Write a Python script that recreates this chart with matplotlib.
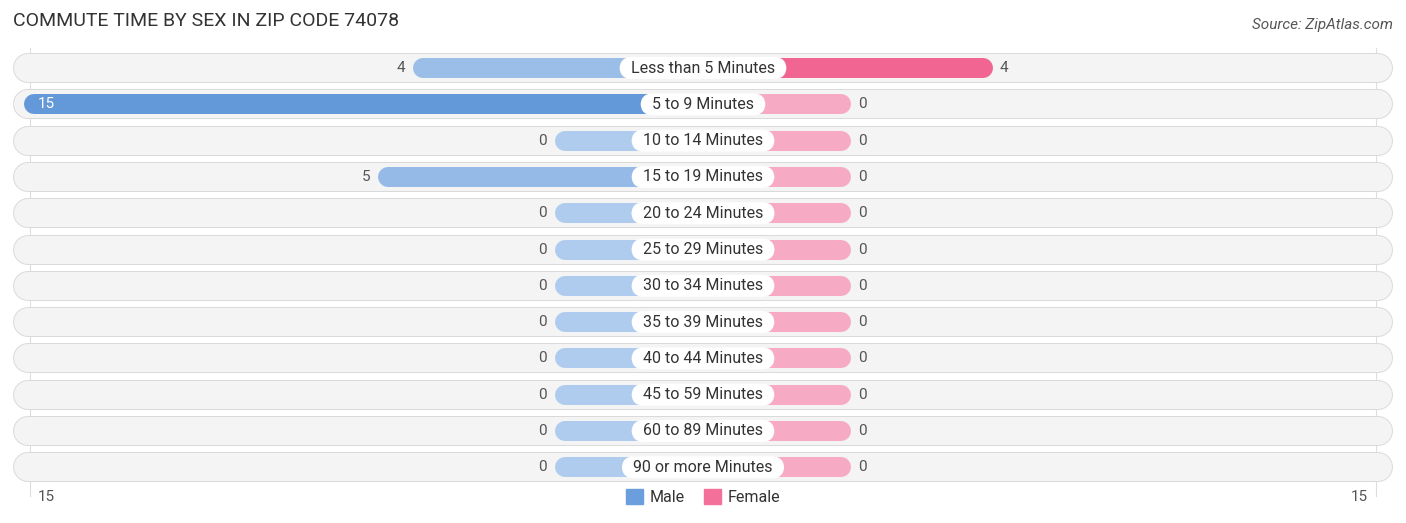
''' Commute time by sex, ZIP code 74078 - butterfly bar chart '''

import matplotlib.pyplot as plt
from matplotlib.patches import Patch
import numpy as np

plt.rcParams['font.family'] = ['Roboto', 'DejaVu Sans']

# Data
categories = ['Less than 5 Minutes', '5 to 9 Minutes', '10 to 14 Minutes',
              '15 to 19 Minutes', '20 to 24 Minutes', '25 to 29 Minutes',
              '30 to 34 Minutes', '35 to 39 Minutes', '40 to 44 Minutes',
              '45 to 59 Minutes', '60 to 89 Minutes', '90 or more Minutes']
male = [4, 15, 0, 5, 0, 0, 0, 0, 0, 0, 0, 0]
female = [4, 0, 0, 0, 0, 0, 0, 0, 0, 0, 0, 0]
axis_max = 15

# Layout (pixel scale of the reference)
PX_X = 35.4        # px per unit along x
PX_Y = 36.3        # px per row
OFFSET = 148 / PX_X  # bars start behind the centre label
R = 10 / PX_X        # bar end radius

male_light, male_dark = np.array([175, 203, 238]), np.array([99, 153, 216])
fem_light, fem_dark = np.array([247, 170, 195]), np.array([240, 101, 146])


def shade(light, dark, frac):
    c = light + (dark - light) * frac
    return tuple(c / 255)


fig = plt.figure(figsize=(14.06, 5.23), dpi=100)
ax = fig.add_axes([0, 0, 1, 1])
ax.set_xlim(-703 / PX_X, 703 / PX_X)
ax.set_ylim(455 / PX_Y, -68 / PX_Y)
ax.axis('off')

n = len(categories)
row_x = 19.08

# gridlines at the axis ends
for gx in (-(OFFSET + axis_max) + 0.17, OFFSET + axis_max - 0.17):
    ax.plot([gx, gx], [-0.55, n - 0.2], color='#dddddd', lw=0.8, zorder=0)

m_max = max(male) or 1
f_max = max(female) or 1

for i, (cat, m, f) in enumerate(zip(categories, male, female)):
    # row background pill
    ax.plot([-row_x, row_x], [i, i], color='#dadada', lw=21.6,
            solid_capstyle='round', zorder=1)
    ax.plot([-row_x, row_x], [i, i], color='#f4f4f4', lw=20.2,
            solid_capstyle='round', zorder=1)

    # male bar
    m_end = -(OFFSET + m)
    ax.plot([-1, m_end + R], [i, i], color=shade(male_light, male_dark, m / m_max),
            lw=14.4, solid_capstyle='round', zorder=2)
    # female bar
    f_end = OFFSET + f
    ax.plot([1, f_end - R], [i, i], color=shade(fem_light, fem_dark, f / f_max),
            lw=14.4, solid_capstyle='round', zorder=2)

    # values
    if m == axis_max:
        ax.text(m_end + 14 / PX_X, i, str(m), ha='left', va='center',
                fontsize=11, color='white', zorder=4)
    else:
        ax.text(m_end - 8 / PX_X, i, str(m), ha='right', va='center',
                fontsize=11, color='#555555', zorder=4)
    ax.text(f_end + 7 / PX_X, i, str(f), ha='left', va='center',
            fontsize=11, color='#555555', zorder=4)

    # centre label
    ax.text(0, i, '  ' + cat + '  ', ha='center', va='center', fontsize=11.5,
            color='#333333', zorder=5,
            bbox=dict(boxstyle='round,pad=0.22,rounding_size=0.8',
                      fc='white', ec='none'))

# axis end labels
ax.text(-(OFFSET + axis_max) + 0.4, n - 0.18, str(axis_max), ha='left', va='center',
        fontsize=11, color='#555555')
ax.text(OFFSET + axis_max - 0.4, n - 0.18, str(axis_max), ha='right', va='center',
        fontsize=11, color='#555555')

fig.text(13 / 1406, 1 - 21 / 523, 'COMMUTE TIME BY SEX IN ZIP CODE 74078',
         ha='left', va='center', fontsize=14, color='#333333')
fig.text(1393 / 1406, 1 - 25 / 523, 'Source: ZipAtlas.com', ha='right',
         va='center', fontsize=11, style='italic', color='#555555')

handles = [Patch(color='#6a9edc', label='Male'), Patch(color='#f3709a', label='Female')]
fig.legend(handles=handles, loc='center', bbox_to_anchor=(0.5, 1 - 497 / 523),
           ncol=2, frameon=False, fontsize=11.5, handlelength=1.1, handleheight=1.1,
           handletextpad=0.4, columnspacing=1.2, labelcolor='#333333')

fig.savefig('out.png', dpi=100)
